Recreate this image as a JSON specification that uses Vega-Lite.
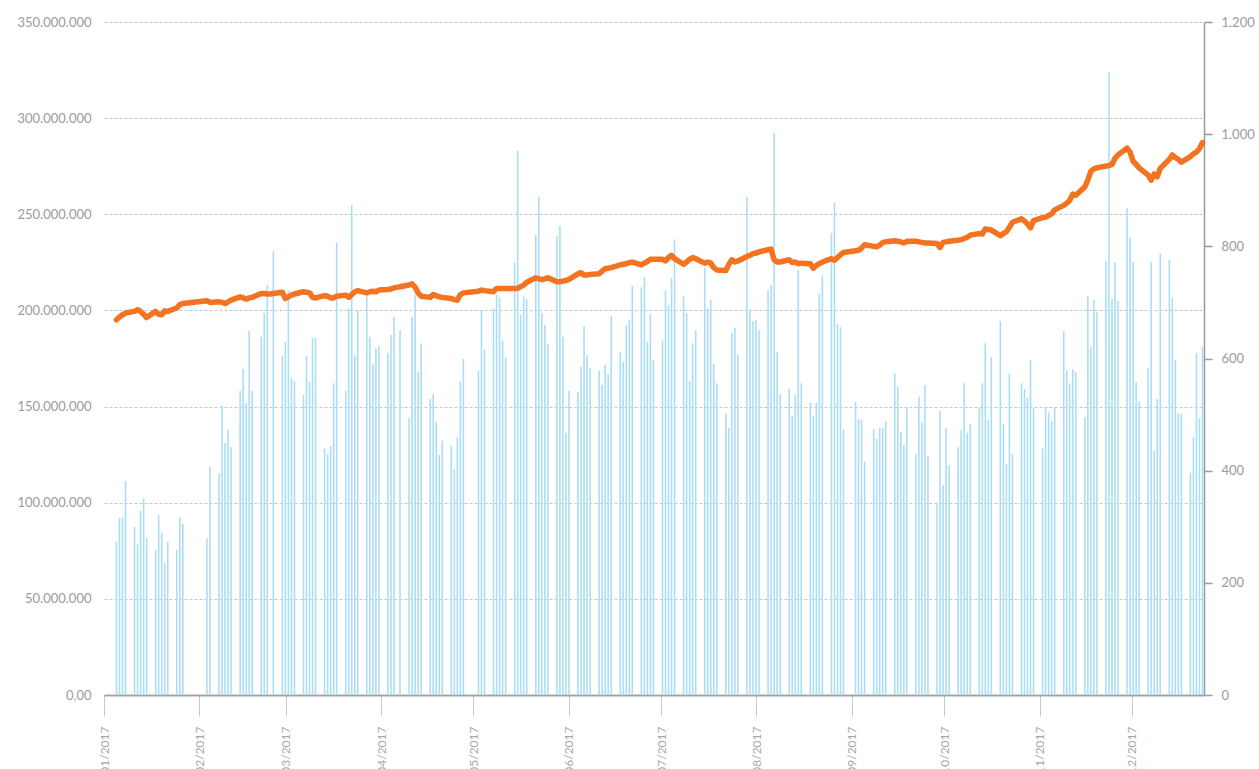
{
  "$schema": "https://vega.github.io/schema/vega-lite/v6.json",
  "width": 1100,
  "height": 673,
  "autosize": "none",
  "padding": {"left": 104, "top": 22, "right": 55, "bottom": 74},
  "background": "white",
  "config": {"view": {"stroke": null}},
  "datasets": {
    "vol": [
      {"date":"2017-01-03","vol":79700000},{"date":"2017-01-04","vol":91900000},{"date":"2017-01-05","vol":92400000},{"date":"2017-01-06","vol":111300000},
      {"date":"2017-01-09","vol":87500000},{"date":"2017-01-10","vol":78400000},{"date":"2017-01-11","vol":95700000},{"date":"2017-01-12","vol":102300000},{"date":"2017-01-13","vol":81500000},
      {"date":"2017-01-16","vol":75400000},{"date":"2017-01-17","vol":93600000},{"date":"2017-01-18","vol":84400000},{"date":"2017-01-19","vol":68800000},{"date":"2017-01-20","vol":79700000},
      {"date":"2017-01-23","vol":75400000},{"date":"2017-01-24","vol":92400000},{"date":"2017-01-25","vol":88900000},
      {"date":"2017-02-02","vol":81500000},{"date":"2017-02-03","vol":118700000},
      {"date":"2017-02-06","vol":115300000},{"date":"2017-02-07","vol":150500000},{"date":"2017-02-08","vol":130900000},{"date":"2017-02-09","vol":137800000},{"date":"2017-02-10","vol":128800000},
      {"date":"2017-02-13","vol":158100000},{"date":"2017-02-14","vol":169500000},{"date":"2017-02-15","vol":152000000},{"date":"2017-02-16","vol":189300000},{"date":"2017-02-17","vol":158100000},
      {"date":"2017-02-20","vol":186300000},{"date":"2017-02-21","vol":198500000},{"date":"2017-02-22","vol":213200000},{"date":"2017-02-24","vol":230900000},
      {"date":"2017-02-27","vol":176300000},{"date":"2017-02-28","vol":183600000},{"date":"2017-03-01","vol":210600000},{"date":"2017-03-02","vol":164700000},{"date":"2017-03-03","vol":163300000},
      {"date":"2017-03-06","vol":156000000},{"date":"2017-03-07","vol":176300000},{"date":"2017-03-08","vol":162800000},{"date":"2017-03-09","vol":185800000},{"date":"2017-03-10","vol":185800000},
      {"date":"2017-03-13","vol":128300000},{"date":"2017-03-14","vol":125300000},{"date":"2017-03-15","vol":129500000},{"date":"2017-03-16","vol":162100000},{"date":"2017-03-17","vol":235200000},
      {"date":"2017-03-20","vol":158100000},{"date":"2017-03-21","vol":201100000},{"date":"2017-03-22","vol":254800000},{"date":"2017-03-23","vol":176800000},{"date":"2017-03-24","vol":200200000},
      {"date":"2017-03-27","vol":207200000},{"date":"2017-03-28","vol":186300000},{"date":"2017-03-29","vol":172100000},{"date":"2017-03-30","vol":180300000},{"date":"2017-03-31","vol":181500000},
      {"date":"2017-04-03","vol":177700000},{"date":"2017-04-04","vol":187200000},{"date":"2017-04-05","vol":196700000},{"date":"2017-04-07","vol":189800000},
      {"date":"2017-04-10","vol":143900000},{"date":"2017-04-11","vol":196700000},{"date":"2017-04-12","vol":208000000},{"date":"2017-04-13","vol":168100000},{"date":"2017-04-14","vol":182900000},
      {"date":"2017-04-17","vol":153900000},{"date":"2017-04-18","vol":156500000},{"date":"2017-04-19","vol":141800000},{"date":"2017-04-20","vol":124800000},{"date":"2017-04-21","vol":132300000},
      {"date":"2017-04-24","vol":129500000},{"date":"2017-04-25","vol":117500000},{"date":"2017-04-26","vol":134200000},{"date":"2017-04-27","vol":163300000},{"date":"2017-04-28","vol":174900000},
      {"date":"2017-05-03","vol":168700000},{"date":"2017-05-04","vol":200200000},{"date":"2017-05-05","vol":179400000},
      {"date":"2017-05-08","vol":201100000},{"date":"2017-05-09","vol":208400000},{"date":"2017-05-10","vol":206600000},{"date":"2017-05-11","vol":184300000},{"date":"2017-05-12","vol":175600000},
      {"date":"2017-05-15","vol":224800000},{"date":"2017-05-16","vol":283000000},{"date":"2017-05-17","vol":197600000},{"date":"2017-05-18","vol":207200000},{"date":"2017-05-19","vol":205900000},
      {"date":"2017-05-22","vol":239200000},{"date":"2017-05-23","vol":259000000},{"date":"2017-05-24","vol":198500000},{"date":"2017-05-25","vol":192400000},{"date":"2017-05-26","vol":182400000},
      {"date":"2017-05-29","vol":238700000},{"date":"2017-05-30","vol":243900000},{"date":"2017-05-31","vol":186300000},{"date":"2017-06-01","vol":136400000},{"date":"2017-06-02","vol":158100000},
      {"date":"2017-06-05","vol":157400000},{"date":"2017-06-06","vol":170700000},{"date":"2017-06-07","vol":191900000},{"date":"2017-06-08","vol":176800000},{"date":"2017-06-09","vol":169900000},
      {"date":"2017-06-12","vol":168700000},{"date":"2017-06-13","vol":161200000},{"date":"2017-06-14","vol":171600000},{"date":"2017-06-15","vol":166900000},{"date":"2017-06-16","vol":197100000},
      {"date":"2017-06-19","vol":178200000},{"date":"2017-06-20","vol":173300000},{"date":"2017-06-21","vol":192400000},{"date":"2017-06-22","vol":195000000},{"date":"2017-06-23","vol":212700000},
      {"date":"2017-06-26","vol":212000000},{"date":"2017-06-27","vol":217200000},{"date":"2017-06-28","vol":183700000},{"date":"2017-06-29","vol":198000000},{"date":"2017-06-30","vol":174200000},
      {"date":"2017-07-03","vol":184300000},{"date":"2017-07-04","vol":210300000},{"date":"2017-07-05","vol":202700000},{"date":"2017-07-06","vol":216700000},{"date":"2017-07-07","vol":237000000},
      {"date":"2017-07-10","vol":207200000},{"date":"2017-07-11","vol":198500000},{"date":"2017-07-12","vol":163300000},{"date":"2017-07-13","vol":182900000},{"date":"2017-07-14","vol":189800000},
      {"date":"2017-07-17","vol":221900000},{"date":"2017-07-18","vol":201100000},{"date":"2017-07-19","vol":205400000},{"date":"2017-07-20","vol":172100000},{"date":"2017-07-21","vol":162100000},
      {"date":"2017-07-24","vol":146500000},{"date":"2017-07-25","vol":139000000},{"date":"2017-07-26","vol":188400000},{"date":"2017-07-27","vol":191000000},{"date":"2017-07-28","vol":176800000},
      {"date":"2017-07-31","vol":259000000},{"date":"2017-08-01","vol":200600000},{"date":"2017-08-02","vol":194500000},{"date":"2017-08-03","vol":195000000},{"date":"2017-08-04","vol":189800000},
      {"date":"2017-08-07","vol":210300000},{"date":"2017-08-08","vol":213200000},{"date":"2017-08-09","vol":292500000},{"date":"2017-08-10","vol":178200000},{"date":"2017-08-11","vol":156500000},
      {"date":"2017-08-14","vol":159100000},{"date":"2017-08-15","vol":145100000},{"date":"2017-08-16","vol":156000000},{"date":"2017-08-17","vol":221000000},{"date":"2017-08-18","vol":162100000},
      {"date":"2017-08-21","vol":152000000},{"date":"2017-08-22","vol":145100000},{"date":"2017-08-23","vol":152000000},{"date":"2017-08-24","vol":208500000},{"date":"2017-08-25","vol":218100000},
      {"date":"2017-08-28","vol":240400000},{"date":"2017-08-29","vol":256000000},{"date":"2017-08-30","vol":192900000},{"date":"2017-08-31","vol":191200000},{"date":"2017-09-01","vol":137800000},
      {"date":"2017-09-05","vol":152500000},{"date":"2017-09-06","vol":143500000},{"date":"2017-09-07","vol":143000000},{"date":"2017-09-08","vol":121300000},
      {"date":"2017-09-11","vol":138300000},{"date":"2017-09-12","vol":133100000},{"date":"2017-09-13","vol":139000000},{"date":"2017-09-14","vol":138700000},{"date":"2017-09-15","vol":142500000},
      {"date":"2017-09-18","vol":167300000},{"date":"2017-09-19","vol":160000000},{"date":"2017-09-20","vol":136900000},{"date":"2017-09-21","vol":130000000},{"date":"2017-09-22","vol":149600000},
      {"date":"2017-09-25","vol":125300000},{"date":"2017-09-26","vol":155100000},{"date":"2017-09-27","vol":141800000},{"date":"2017-09-28","vol":161200000},{"date":"2017-09-29","vol":124300000},
      {"date":"2017-10-02","vol":100000000},{"date":"2017-10-03","vol":147700000},{"date":"2017-10-04","vol":109200000},{"date":"2017-10-05","vol":139000000},{"date":"2017-10-06","vol":119600000},
      {"date":"2017-10-09","vol":128800000},{"date":"2017-10-10","vol":137800000},{"date":"2017-10-11","vol":162100000},{"date":"2017-10-12","vol":136400000},{"date":"2017-10-13","vol":140900000},
      {"date":"2017-10-16","vol":149100000},{"date":"2017-10-17","vol":162100000},{"date":"2017-10-18","vol":182900000},{"date":"2017-10-19","vol":143000000},{"date":"2017-10-20","vol":175600000},
      {"date":"2017-10-23","vol":194500000},{"date":"2017-10-24","vol":140900000},{"date":"2017-10-25","vol":120100000},{"date":"2017-10-26","vol":166900000},{"date":"2017-10-27","vol":125300000},
      {"date":"2017-10-30","vol":162100000},{"date":"2017-10-31","vol":159100000},{"date":"2017-11-01","vol":154600000},{"date":"2017-11-02","vol":174200000},{"date":"2017-11-03","vol":149100000},
      {"date":"2017-11-06","vol":128300000},{"date":"2017-11-07","vol":149900000},{"date":"2017-11-08","vol":147000000},{"date":"2017-11-09","vol":142500000},{"date":"2017-11-10","vol":149600000},
      {"date":"2017-11-13","vol":189300000},{"date":"2017-11-14","vol":168700000},{"date":"2017-11-15","vol":162100000},{"date":"2017-11-16","vol":169400000},{"date":"2017-11-17","vol":167800000},
      {"date":"2017-11-20","vol":144400000},{"date":"2017-11-21","vol":207500000},{"date":"2017-11-22","vol":181100000},{"date":"2017-11-23","vol":205400000},{"date":"2017-11-24","vol":199000000},
      {"date":"2017-11-27","vol":225700000},{"date":"2017-11-28","vol":324000000},{"date":"2017-11-29","vol":205900000},{"date":"2017-11-30","vol":225000000},{"date":"2017-12-01","vol":204900000},
      {"date":"2017-12-04","vol":253100000},{"date":"2017-12-05","vol":237800000},{"date":"2017-12-06","vol":225000000},{"date":"2017-12-07","vol":162900000},{"date":"2017-12-08","vol":152500000},
      {"date":"2017-12-11","vol":169900000},{"date":"2017-12-12","vol":225000000},{"date":"2017-12-13","vol":127000000},{"date":"2017-12-14","vol":153900000},{"date":"2017-12-15","vol":229700000},
      {"date":"2017-12-18","vol":226200000},{"date":"2017-12-19","vol":206600000},{"date":"2017-12-20","vol":174200000},{"date":"2017-12-21","vol":146500000},{"date":"2017-12-22","vol":146000000},
      {"date":"2017-12-25","vol":115600000},{"date":"2017-12-26","vol":134300000},{"date":"2017-12-27","vol":177700000},{"date":"2017-12-28","vol":143900000},{"date":"2017-12-29","vol":181100000}
    ],
    "idx": [
      {"date":"2017-01-03","idx":669},{"date":"2017-01-04","idx":674},{"date":"2017-01-05","idx":678},{"date":"2017-01-06","idx":681},
      {"date":"2017-01-09","idx":684},{"date":"2017-01-10","idx":687},{"date":"2017-01-11","idx":684},{"date":"2017-01-12","idx":679},{"date":"2017-01-13","idx":673},
      {"date":"2017-01-16","idx":684},{"date":"2017-01-17","idx":679},{"date":"2017-01-18","idx":678},{"date":"2017-01-19","idx":685},{"date":"2017-01-20","idx":684},
      {"date":"2017-01-23","idx":690},{"date":"2017-01-24","idx":696},{"date":"2017-01-25","idx":698},
      {"date":"2017-02-02","idx":703},{"date":"2017-02-03","idx":700},
      {"date":"2017-02-06","idx":701},{"date":"2017-02-07","idx":700},{"date":"2017-02-08","idx":698},{"date":"2017-02-09","idx":701},{"date":"2017-02-10","idx":704},
      {"date":"2017-02-13","idx":710},{"date":"2017-02-14","idx":708},{"date":"2017-02-15","idx":706},{"date":"2017-02-16","idx":708},{"date":"2017-02-17","idx":709},
      {"date":"2017-02-20","idx":716},{"date":"2017-02-21","idx":716},{"date":"2017-02-22","idx":715},{"date":"2017-02-23","idx":715},{"date":"2017-02-24","idx":716},
      {"date":"2017-02-27","idx":718},{"date":"2017-02-28","idx":707},{"date":"2017-03-01","idx":710},{"date":"2017-03-02","idx":713},{"date":"2017-03-03","idx":715},
      {"date":"2017-03-06","idx":719},{"date":"2017-03-07","idx":718},{"date":"2017-03-08","idx":717},{"date":"2017-03-09","idx":709},{"date":"2017-03-10","idx":708},
      {"date":"2017-03-13","idx":712},{"date":"2017-03-14","idx":711},{"date":"2017-03-15","idx":708},{"date":"2017-03-16","idx":708},{"date":"2017-03-17","idx":711},
      {"date":"2017-03-20","idx":713},{"date":"2017-03-21","idx":709},{"date":"2017-03-22","idx":714},{"date":"2017-03-23","idx":719},{"date":"2017-03-24","idx":721},
      {"date":"2017-03-27","idx":717},{"date":"2017-03-28","idx":719},{"date":"2017-03-29","idx":720},{"date":"2017-03-30","idx":719},{"date":"2017-03-31","idx":722},
      {"date":"2017-04-03","idx":723},{"date":"2017-04-04","idx":724},{"date":"2017-04-05","idx":726},{"date":"2017-04-07","idx":728},
      {"date":"2017-04-10","idx":731},{"date":"2017-04-11","idx":733},{"date":"2017-04-12","idx":727},{"date":"2017-04-13","idx":717},{"date":"2017-04-14","idx":711},
      {"date":"2017-04-17","idx":709},{"date":"2017-04-18","idx":714},{"date":"2017-04-19","idx":712},{"date":"2017-04-20","idx":710},{"date":"2017-04-21","idx":709},
      {"date":"2017-04-24","idx":707},{"date":"2017-04-25","idx":705},{"date":"2017-04-26","idx":704},{"date":"2017-04-27","idx":714},{"date":"2017-04-28","idx":717},
      {"date":"2017-05-03","idx":720},{"date":"2017-05-04","idx":722},{"date":"2017-05-05","idx":721},
      {"date":"2017-05-08","idx":719},{"date":"2017-05-09","idx":725},{"date":"2017-05-10","idx":725},{"date":"2017-05-11","idx":725},{"date":"2017-05-12","idx":725},
      {"date":"2017-05-15","idx":725},{"date":"2017-05-16","idx":725},{"date":"2017-05-17","idx":728},{"date":"2017-05-18","idx":731},{"date":"2017-05-19","idx":736},
      {"date":"2017-05-22","idx":744},{"date":"2017-05-23","idx":742},{"date":"2017-05-24","idx":741},{"date":"2017-05-25","idx":742},{"date":"2017-05-26","idx":744},
      {"date":"2017-05-29","idx":737},{"date":"2017-05-30","idx":737},{"date":"2017-05-31","idx":738},{"date":"2017-06-01","idx":739},{"date":"2017-06-02","idx":741},
      {"date":"2017-06-05","idx":751},{"date":"2017-06-06","idx":753},{"date":"2017-06-07","idx":749},{"date":"2017-06-08","idx":749},{"date":"2017-06-09","idx":750},
      {"date":"2017-06-12","idx":751},{"date":"2017-06-13","idx":756},{"date":"2017-06-14","idx":760},{"date":"2017-06-15","idx":761},{"date":"2017-06-16","idx":762},
      {"date":"2017-06-19","idx":767},{"date":"2017-06-20","idx":768},{"date":"2017-06-21","idx":769},{"date":"2017-06-22","idx":771},{"date":"2017-06-23","idx":772},
      {"date":"2017-06-26","idx":767},{"date":"2017-06-27","idx":770},{"date":"2017-06-28","idx":773},{"date":"2017-06-29","idx":777},{"date":"2017-06-30","idx":777},
      {"date":"2017-07-03","idx":777},{"date":"2017-07-04","idx":774},{"date":"2017-07-05","idx":780},{"date":"2017-07-06","idx":784},{"date":"2017-07-07","idx":778},
      {"date":"2017-07-10","idx":768},{"date":"2017-07-11","idx":772},{"date":"2017-07-12","idx":777},{"date":"2017-07-13","idx":780},{"date":"2017-07-14","idx":778},
      {"date":"2017-07-17","idx":770},{"date":"2017-07-18","idx":772},{"date":"2017-07-19","idx":770},{"date":"2017-07-20","idx":762},{"date":"2017-07-21","idx":758},
      {"date":"2017-07-24","idx":757},{"date":"2017-07-25","idx":768},{"date":"2017-07-26","idx":776},{"date":"2017-07-27","idx":772},{"date":"2017-07-28","idx":774},
      {"date":"2017-07-31","idx":782},{"date":"2017-08-01","idx":784},{"date":"2017-08-02","idx":787},{"date":"2017-08-03","idx":788},{"date":"2017-08-04","idx":790},
      {"date":"2017-08-07","idx":794},{"date":"2017-08-08","idx":795},{"date":"2017-08-09","idx":776},{"date":"2017-08-10","idx":772},{"date":"2017-08-11","idx":772},
      {"date":"2017-08-14","idx":776},{"date":"2017-08-15","idx":771},{"date":"2017-08-16","idx":772},{"date":"2017-08-17","idx":769},{"date":"2017-08-18","idx":770},
      {"date":"2017-08-21","idx":769},{"date":"2017-08-22","idx":761},{"date":"2017-08-23","idx":766},{"date":"2017-08-24","idx":769},{"date":"2017-08-25","idx":772},
      {"date":"2017-08-28","idx":778},{"date":"2017-08-29","idx":775},{"date":"2017-08-30","idx":780},{"date":"2017-08-31","idx":785},{"date":"2017-09-01","idx":789},
      {"date":"2017-09-05","idx":792},{"date":"2017-09-06","idx":793},{"date":"2017-09-07","idx":797},{"date":"2017-09-08","idx":803},
      {"date":"2017-09-11","idx":800},{"date":"2017-09-12","idx":799},{"date":"2017-09-13","idx":802},{"date":"2017-09-14","idx":807},{"date":"2017-09-15","idx":808},
      {"date":"2017-09-18","idx":810},{"date":"2017-09-19","idx":809},{"date":"2017-09-20","idx":808},{"date":"2017-09-21","idx":806},{"date":"2017-09-22","idx":809},
      {"date":"2017-09-25","idx":809},{"date":"2017-09-26","idx":808},{"date":"2017-09-27","idx":807},{"date":"2017-09-28","idx":806},{"date":"2017-09-29","idx":806},
      {"date":"2017-10-02","idx":805},{"date":"2017-10-03","idx":798},{"date":"2017-10-04","idx":807},{"date":"2017-10-05","idx":808},{"date":"2017-10-06","idx":809},
      {"date":"2017-10-09","idx":811},{"date":"2017-10-10","idx":812},{"date":"2017-10-11","idx":814},{"date":"2017-10-12","idx":816},{"date":"2017-10-13","idx":820},
      {"date":"2017-10-16","idx":823},{"date":"2017-10-17","idx":822},{"date":"2017-10-18","idx":831},{"date":"2017-10-19","idx":830},{"date":"2017-10-20","idx":829},
      {"date":"2017-10-23","idx":819},{"date":"2017-10-24","idx":823},{"date":"2017-10-25","idx":826},{"date":"2017-10-26","idx":834},{"date":"2017-10-27","idx":843},
      {"date":"2017-10-30","idx":849},{"date":"2017-10-31","idx":845},{"date":"2017-11-01","idx":840},{"date":"2017-11-02","idx":833},{"date":"2017-11-03","idx":846},
      {"date":"2017-11-06","idx":851},{"date":"2017-11-07","idx":852},{"date":"2017-11-08","idx":855},{"date":"2017-11-09","idx":858},{"date":"2017-11-10","idx":865},
      {"date":"2017-11-13","idx":873},{"date":"2017-11-14","idx":877},{"date":"2017-11-15","idx":882},{"date":"2017-11-16","idx":893},{"date":"2017-11-17","idx":891},
      {"date":"2017-11-20","idx":906},{"date":"2017-11-21","idx":918},{"date":"2017-11-22","idx":934},{"date":"2017-11-23","idx":938},{"date":"2017-11-24","idx":940},
      {"date":"2017-11-27","idx":943},{"date":"2017-11-28","idx":944},{"date":"2017-11-29","idx":946},{"date":"2017-11-30","idx":957},{"date":"2017-12-01","idx":963},
      {"date":"2017-12-04","idx":975},{"date":"2017-12-05","idx":968},{"date":"2017-12-06","idx":952},{"date":"2017-12-07","idx":946},{"date":"2017-12-08","idx":940},
      {"date":"2017-12-11","idx":927},{"date":"2017-12-12","idx":918},{"date":"2017-12-13","idx":929},{"date":"2017-12-14","idx":924},{"date":"2017-12-15","idx":939},
      {"date":"2017-12-18","idx":955},{"date":"2017-12-19","idx":963},{"date":"2017-12-20","idx":958},{"date":"2017-12-21","idx":955},{"date":"2017-12-22","idx":950},
      {"date":"2017-12-25","idx":960},{"date":"2017-12-26","idx":965},{"date":"2017-12-27","idx":968},{"date":"2017-12-28","idx":974},{"date":"2017-12-29","idx":985}
    ],
    "months": [
      {"month":"2017-01-01"},{"month":"2017-02-01"},{"month":"2017-03-01"},{"month":"2017-04-01"},{"month":"2017-05-01"},{"month":"2017-06-01"},
      {"month":"2017-07-01"},{"month":"2017-08-01"},{"month":"2017-09-01"},{"month":"2017-10-01"},{"month":"2017-11-01"},{"month":"2017-12-01"}
    ]
  },
  "layer": [
    {
      "data": {"name": "vol"},
      "mark": {"type": "bar", "width": 1.6, "color": "#abdef6"},
      "encoding": {
        "x": {"field": "date", "type": "temporal",
          "scale": {"type": "utc", "padding": 0, "nice": false, "domain": [{"year": 2016, "month": 12, "date": 29, "hours": 21, "utc": true}, {"year": 2017, "month": 12, "date": 29, "hours": 12, "utc": true}]},
          "axis": null},
        "y": {"field": "vol", "type": "quantitative", "stack": null,
          "scale": {"domain": [0, 350000000], "nice": false},
          "axis": {"orient": "left", "title": null,
            "values": [0, 50000000, 100000000, 150000000, 200000000, 250000000, 300000000, 350000000],
            "grid": true, "gridDash": [3, 2], "gridColor": "#c6c6c6", "gridWidth": 1,
            "domain": false, "ticks": false, "labelPadding": 13,
            "labelColor": "#9b9b9b", "labelFont": "Lato", "labelFontSize": 13,
            "labelExpr": "datum.value === 0 ? '0,00' : replace(format(datum.value, ','), /,/g, '.')"}}
      }
    },
    {
      "data": {"name": "idx"},
      "mark": {"type": "line", "color": "#f37321", "strokeWidth": 5.5, "strokeCap": "round", "strokeJoin": "round"},
      "encoding": {
        "x": {"field": "date", "type": "temporal",
          "scale": {"type": "utc", "padding": 0, "nice": false, "domain": [{"year": 2016, "month": 12, "date": 29, "hours": 21, "utc": true}, {"year": 2017, "month": 12, "date": 29, "hours": 12, "utc": true}]},
          "axis": null},
        "y": {"field": "idx", "type": "quantitative",
          "scale": {"domain": [0, 1200], "nice": false},
          "axis": {"orient": "right", "title": null,
            "values": [0, 200, 400, 600, 800, 1000, 1200],
            "grid": false, "domain": true, "domainColor": "#9a9a9a", "domainWidth": 1.5,
            "ticks": true, "tickSize": 8, "tickColor": "#9a9a9a", "tickWidth": 1.5,
            "labelPadding": 9, "labelColor": "#9b9b9b", "labelFont": "Lato", "labelFontSize": 13,
            "labelExpr": "replace(format(datum.value, ','), /,/g, '.')"}}
      }
    },
    {
      "data": {"name": "months"},
      "mark": {"type": "rule", "opacity": 0},
      "encoding": {
        "x": {"field": "month", "type": "temporal",
          "scale": {"type": "utc", "padding": 0, "nice": false, "domain": [{"year": 2017, "month": 1, "date": 1, "utc": true}, {"year": 2017, "month": 12, "date": 24, "hours": 9, "minutes": 36, "utc": true}]},
          "axis": {"orient": "bottom", "title": null,
            "values": [
              {"year": 2017, "month": 1, "date": 1, "utc": true}, {"year": 2017, "month": 2, "date": 1, "utc": true},
              {"year": 2017, "month": 3, "date": 1, "utc": true}, {"year": 2017, "month": 4, "date": 1, "utc": true},
              {"year": 2017, "month": 5, "date": 1, "utc": true}, {"year": 2017, "month": 6, "date": 1, "utc": true},
              {"year": 2017, "month": 7, "date": 1, "utc": true}, {"year": 2017, "month": 8, "date": 1, "utc": true},
              {"year": 2017, "month": 9, "date": 1, "utc": true}, {"year": 2017, "month": 10, "date": 1, "utc": true},
              {"year": 2017, "month": 11, "date": 1, "utc": true}, {"year": 2017, "month": 12, "date": 1, "utc": true}],
            "grid": false, "domain": true, "domainColor": "#a3a3a3", "domainWidth": 2,
            "ticks": true, "tickSize": 21, "tickColor": "#c8c8c8", "tickWidth": 1,
            "labelAngle": -90, "labelPadding": 10, "labelOverlap": false, "labelFlush": false,
            "labelColor": "#a8a8a8", "labelFont": "Lato", "labelFontSize": 12,
            "labelExpr": "utcFormat(datum.value, '%m/%Y')"}}
      }
    }
  ],
  "resolve": {"scale": {"x": "independent", "y": "independent"}}
}
